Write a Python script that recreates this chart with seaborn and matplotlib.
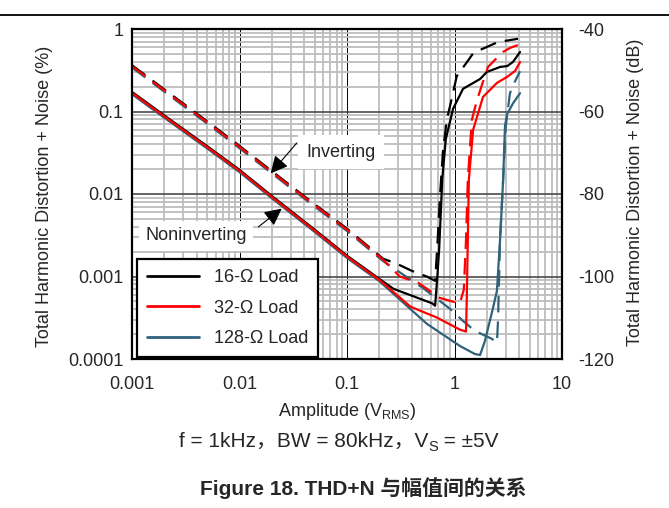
import numpy as np
import pandas as pd
import seaborn as sns
import matplotlib
matplotlib.use("Agg")
import matplotlib.pyplot as plt
from matplotlib.lines import Line2D
from matplotlib.ticker import FixedLocator, LogLocator, NullFormatter
from matplotlib import transforms

# ---------------------------------------------------------------------------
# Data: amplitude (V_RMS) and THD+N (%)
# ---------------------------------------------------------------------------
# Noise-limited region shared by every load
LOW_AMP = [0.001, 0.002, 0.005, 0.01, 0.02, 0.05, 0.1]
LOW_THD_NONINV = [0.168, 0.087, 0.037, 0.0191, 0.0092, 0.0036, 0.00174]
LOW_THD_INV = [0.354, 0.18, 0.074, 0.0372, 0.0184, 0.0073, 0.0037]

# 16-ohm load
AMP_16_NONINV = [0.2, 0.27, 0.62, 0.66, 0.69, 0.72, 0.77, 0.83, 0.97, 1.2,
                 1.73, 2.0, 2.65, 3.1, 3.5, 4.07]
THD_16_NONINV = [0.00091, 0.00069, 0.00046, 0.00043, 0.0009, 0.0021, 0.0149,
                 0.045, 0.105, 0.183, 0.241, 0.293, 0.337, 0.346, 0.388, 0.512]
AMP_16_INV = [0.216, 0.29, 0.40, 0.555, 0.66, 0.69, 0.73, 0.78, 0.85, 0.91,
              1.05, 1.31, 1.5, 2.0, 2.5, 3.2, 3.9]
THD_16_INV = [0.0016, 0.00139, 0.00114, 0.00097, 0.00086, 0.0021, 0.0085,
              0.0316, 0.079, 0.114, 0.262, 0.388, 0.50, 0.589, 0.67, 0.71, 0.74]

# 32-ohm load
AMP_32_NONINV = [0.2, 0.39, 0.69, 1.12, 1.28, 1.3, 1.33, 1.36, 1.49, 1.62,
                 1.84, 2.14, 2.48, 3.08, 3.66, 4.07]
THD_32_NONINV = [0.00091, 0.00043, 0.000317, 0.000227, 0.000215, 0.00052,
                 0.0028, 0.0149, 0.060, 0.086, 0.150, 0.183, 0.222, 0.262,
                 0.31, 0.398]
AMP_32_INV = [0.216, 0.31, 0.46, 0.73, 1.12, 1.22, 1.28, 1.33, 1.45, 1.62,
              1.80, 2.05, 2.48, 2.83, 3.28, 3.9]
THD_32_INV = [0.0016, 0.001, 0.00084, 0.00055, 0.00047, 0.00069, 0.0028,
              0.0149, 0.079, 0.138, 0.21, 0.347, 0.446, 0.527, 0.589, 0.64]

# 128-ohm load
AMP_128_NONINV = [0.2, 0.555, 1.125, 1.55, 1.73, 1.92, 2.28, 2.48, 2.65,
                  2.83, 2.95, 3.08, 3.5, 4.07]
THD_128_NONINV = [0.00091, 0.000276, 0.000149, 0.000119, 0.000116, 0.000172,
                  0.00043, 0.00069, 0.0028, 0.0149, 0.069, 0.096, 0.13, 0.173]
AMP_128_INV = [0.216, 0.51, 0.91, 1.2, 1.55, 2.23, 2.48, 2.54, 2.65, 2.83,
               3.0, 3.28, 3.66, 4.07]
THD_128_INV = [0.0016, 0.00075, 0.00042, 0.0003, 0.000227, 0.000182,
               0.000163, 0.0003, 0.0028, 0.0149, 0.069, 0.173, 0.241, 0.319]

LOADS = ["16-Ω Load", "32-Ω Load", "128-Ω Load"]
COLORS = ["#000000", "#FF0000", "#2F627B"]

X_TICKS = [0.001, 0.01, 0.1, 1, 10]
X_TICK_LABELS = ["0.001", "0.01", "0.1", "1", "10"]
Y_TICKS = [0.0001, 0.001, 0.01, 0.1, 1]
Y_TICK_LABELS = ["0.0001", "0.001", "0.01", "0.1", "1"]
DB_TICKS = [-120, -100, -80, -60, -40]
DB_TICK_LABELS = ["-120", "-100", "-80", "-60", "-40"]

# ---------------------------------------------------------------------------
# Assemble a long-form table
# ---------------------------------------------------------------------------
tails = {
    ("16-Ω Load", "Noninverting"): (AMP_16_NONINV, THD_16_NONINV),
    ("16-Ω Load", "Inverting"): (AMP_16_INV, THD_16_INV),
    ("32-Ω Load", "Noninverting"): (AMP_32_NONINV, THD_32_NONINV),
    ("32-Ω Load", "Inverting"): (AMP_32_INV, THD_32_INV),
    ("128-Ω Load", "Noninverting"): (AMP_128_NONINV, THD_128_NONINV),
    ("128-Ω Load", "Inverting"): (AMP_128_INV, THD_128_INV),
}
frames = []
for (load, cfg), (amp, thd) in tails.items():
    low = LOW_THD_NONINV if cfg == "Noninverting" else LOW_THD_INV
    a = LOW_AMP + amp
    t = low + thd
    frames.append(pd.DataFrame({"amp": a, "thd": t, "load": load,
                                "config": cfg, "seq": range(len(a))}))
df = pd.concat(frames, ignore_index=True)

# ---------------------------------------------------------------------------
# Style
# ---------------------------------------------------------------------------
sns.set_style("white")
plt.rcParams["font.family"] = ["Liberation Sans", "Noto Sans CJK SC"]
plt.rcParams["mathtext.fontset"] = "custom"
plt.rcParams["mathtext.rm"] = "Liberation Sans"
plt.rcParams["axes.unicode_minus"] = False
plt.rcParams["lines.scale_dashes"] = False

W, H = 669, 508
fig = plt.figure(figsize=(W / 100, H / 100), dpi=100)
fig.patch.set_facecolor("white")

L, R, T, B = 132, 562, 29, 359
ax = fig.add_axes([L / W, 1 - B / H, (R - L) / W, (B - T) / H])
ax.set_xscale("log")
ax.set_yscale("log")
ax.set_xlim(0.001, 10)
ax.set_ylim(0.0001, 1)

# Grid: light minor lines, dark major lines
ax.xaxis.set_minor_locator(LogLocator(base=10, subs=range(2, 10), numticks=50))
ax.yaxis.set_minor_locator(LogLocator(base=10, subs=range(2, 10), numticks=50))
ax.xaxis.set_minor_formatter(NullFormatter())
ax.yaxis.set_minor_formatter(NullFormatter())
ax.grid(which="minor", axis="both", color="#BDBDBD", lw=1.3)
ax.grid(which="major", axis="y", color="#4A4A4A", lw=1.2)
ax.grid(which="major", axis="x", color="#000000", lw=0.7)
ax.set_axisbelow(True)

# Curves
offsets = {"16-Ω Load": 1.0, "32-Ω Load": 0.0, "128-Ω Load": -1.3}
draw_order = ["16-Ω Load", "128-Ω Load", "32-Ω Load"]
for load in draw_order:
    color = COLORS[LOADS.index(load)]
    for cfg in ["Noninverting", "Inverting"]:
        sub = df[(df["load"] == load) & (df["config"] == cfg)].sort_values("seq")
        n_before = len(ax.lines)
        sns.lineplot(data=sub, x="amp", y="thd", ax=ax, color=color,
                     sort=False, estimator=None, lw=1.6, legend=False)
        ln = ax.lines[n_before]
        ln.set_transform(transforms.offset_copy(ax.transData, fig=fig, x=0,
                                                y=offsets[load], units="dots"))
        ln.set_solid_capstyle("round")
        if cfg == "Inverting":
            ln.set_linestyle((0, (12, 6.5)))
            ln.set_dash_capstyle("butt")

ax.set_xlabel("")
ax.set_ylabel("")
ax.xaxis.set_major_locator(FixedLocator(X_TICKS))
ax.yaxis.set_major_locator(FixedLocator(Y_TICKS))
ax.set_xticklabels(X_TICK_LABELS)
ax.set_yticklabels(Y_TICK_LABELS)
ax.tick_params(axis="both", which="both", length=0, labelsize=13)
ax.tick_params(axis="x", pad=12)
ax.tick_params(axis="y", pad=6)
for s in ax.spines.values():
    s.set_color("black")
    s.set_linewidth(1.6)

# Right-hand dB axis
ax2 = ax.twinx()
ax2.set_ylim(-120, -40)
ax2.yaxis.set_major_locator(FixedLocator(DB_TICKS))
ax2.set_yticklabels(DB_TICK_LABELS)
ax2.tick_params(axis="y", length=0, labelsize=13, pad=12)
ax2.grid(False)
for s in ax2.spines.values():
    s.set_visible(False)

# Annotations
arrow_style = dict(arrowstyle="-|>,head_length=0.7,head_width=0.35",
                   color="black", lw=0.8, mutation_scale=15,
                   shrinkA=0, shrinkB=0)
ax.text(0.0879, 0.0322, "Inverting", fontsize=13, ha="center", va="center",
        bbox=dict(boxstyle="square,pad=0.45", fc="white", ec="none"), zorder=5)
ax.annotate("", xy=(0.0195, 0.0178), xytext=(0.0341, 0.0415),
            arrowprops=arrow_style, zorder=6)
ax.text(0.00396, 0.0031, "Noninverting", fontsize=13, ha="center", va="center",
        bbox=dict(boxstyle="square,pad=0.35", fc="white", ec="none"), zorder=5)
ax.annotate("", xy=(0.0247, 0.00665), xytext=(0.0150, 0.0040),
            arrowprops=arrow_style, zorder=6)

# Legend
handles = [Line2D([], [], color=c, lw=2) for c in COLORS]
leg = ax.legend(handles, LOADS, loc="lower left",
                bbox_to_anchor=(5 / (R - L), 2 / (B - T)), borderaxespad=0,
                fontsize=13, handlelength=2.9, handletextpad=0.8,
                borderpad=0.55, labelspacing=0.75, fancybox=False,
                framealpha=1, edgecolor="black")
leg.get_frame().set_linewidth(1.6)
leg.set_zorder(10)

# Axis titles and captions
fig.text(45 / W, 1 - 196 / H, "Total Harmonic Distortion + Noise (%)",
         rotation=90, ha="center", va="center", fontsize=13)
fig.text(635 / W, 1 - 192 / H, "Total Harmonic Distortion + Noise (dB)",
         rotation=90, ha="center", va="center", fontsize=13)
fig.text(347 / W, 1 - 412 / H, r"Amplitude (V$_\mathregular{RMS}$)",
         ha="center", va="center", fontsize=13)


def draw_runs(x_center_px, baseline_px, runs):
    """Lay out text pieces (text, size, baseline shift in px) on one line."""
    renderer = fig.canvas.get_renderer()
    items = []
    for s, size, dy in runs:
        t = fig.text(0, 0, s, fontsize=size, ha="left", va="baseline")
        items.append((t, dy, t.get_window_extent(renderer).width))
    x = x_center_px - sum(w for _, _, w in items) / 2
    for t, dy, w in items:
        t.set_position((x / W, 1 - (baseline_px + dy) / H))
        x += w


# Test conditions line (subscripted S drawn as its own run)
draw_runs(339, 447, [("f = 1kHz，BW = 80kHz，V", 15, 0),
                     ("S", 10.5, 4),
                     (" = ±5V", 15, 0)])

fig.text(363 / W, 1 - 488 / H, "Figure 18. THD+N 与幅值间的关系",
         ha="center", va="center", fontsize=15, fontweight="bold")

# Page header rule
fig.add_artist(Line2D([0, 1], [1 - 15 / H, 1 - 15 / H], color="black",
                      lw=1.3, transform=fig.transFigure))

fig.savefig("out.png", dpi=100, facecolor="white")
